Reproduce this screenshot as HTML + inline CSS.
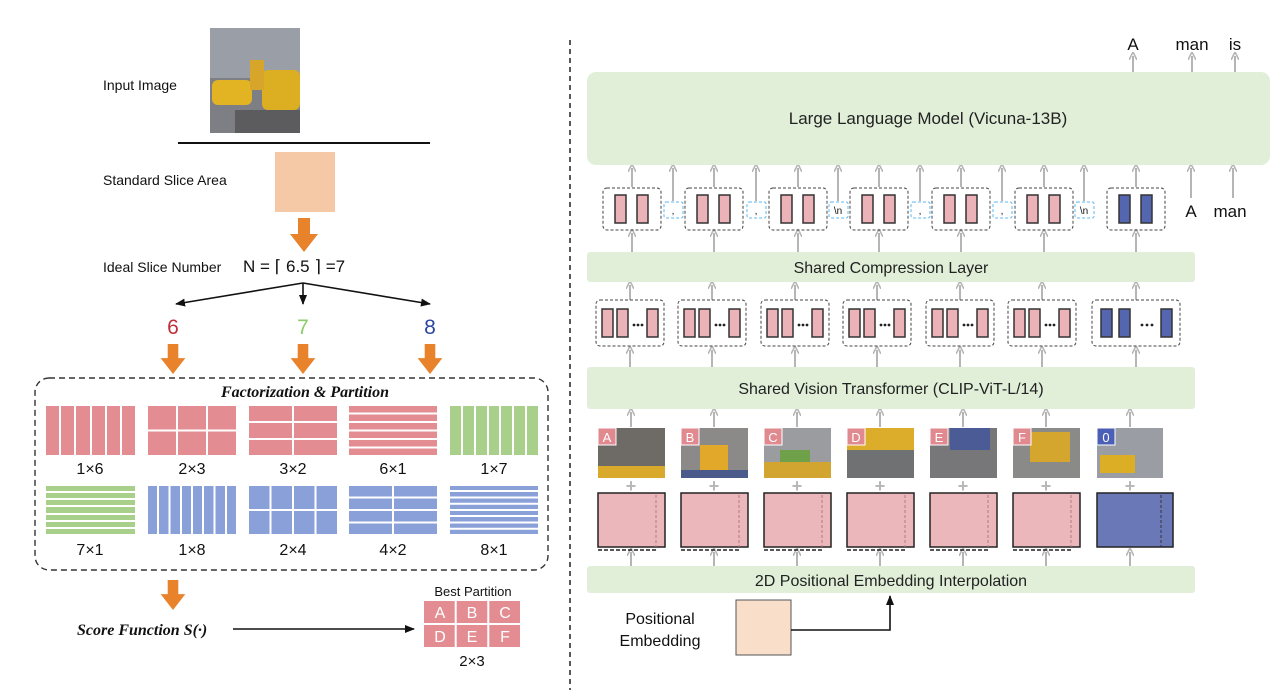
<!DOCTYPE html>
<html><head><meta charset="utf-8"><style>
html,body{margin:0;padding:0;background:#fff;}
svg{display:block;font-family:"Liberation Sans",Arial,sans-serif;}
</style></head><body>
<svg width="1280" height="694" viewBox="0 0 1280 694" xmlns="http://www.w3.org/2000/svg">
<defs>
<marker id="ga" markerWidth="8" markerHeight="8" refX="4" refY="4" orient="auto" markerUnits="userSpaceOnUse" viewBox="0 0 8 8"><path d="M0,0 L8,4 L0,8" fill="none" stroke="#b5b5b5" stroke-width="1.6"/></marker>
<marker id="ka" markerWidth="10" markerHeight="10" refX="9" refY="5" orient="auto" markerUnits="userSpaceOnUse"><path d="M0,1 L10,5 L0,9 Z" fill="#111"/></marker>
<symbol id="oarr" viewBox="0 0 28 34" overflow="visible"><path d="M8,0 H20 V16 H28 L14,34 L0,16 H8 Z" fill="#e8832c"/></symbol>
<g id="tg"><rect x="0" y="0" width="58" height="42" rx="4" fill="none" stroke="#444" stroke-dasharray="3,2"/><rect x="12" y="7" width="11" height="28" fill="#ebb2b8" stroke="#333" stroke-width="1.5"/><rect x="34" y="7" width="11" height="28" fill="#ebb2b8" stroke="#333" stroke-width="1.5"/></g>
<g id="tgb"><rect x="0" y="0" width="58" height="42" rx="4" fill="none" stroke="#444" stroke-dasharray="3,2"/><rect x="12" y="7" width="11" height="28" fill="#5566b0" stroke="#333" stroke-width="1.5"/><rect x="34" y="7" width="11" height="28" fill="#5566b0" stroke="#333" stroke-width="1.5"/></g>
<g id="vg"><rect x="0" y="0" width="68" height="46" rx="4" fill="none" stroke="#444" stroke-dasharray="3,2"/><rect x="6" y="9" width="11" height="28" fill="#ebb2b8" stroke="#333" stroke-width="1.5"/><rect x="21" y="9" width="11" height="28" fill="#ebb2b8" stroke="#333" stroke-width="1.5"/><circle cx="38" cy="25" r="1.4" fill="#222"/><circle cx="42" cy="25" r="1.4" fill="#222"/><circle cx="46" cy="25" r="1.4" fill="#222"/><rect x="51" y="9" width="11" height="28" fill="#ebb2b8" stroke="#333" stroke-width="1.5"/></g>
<g id="vgb"><rect x="0" y="0" width="88" height="46" rx="4" fill="none" stroke="#444" stroke-dasharray="3,2"/><rect x="9" y="9" width="11" height="28" fill="#5566b0" stroke="#333" stroke-width="1.5"/><rect x="27" y="9" width="11" height="28" fill="#5566b0" stroke="#333" stroke-width="1.5"/><circle cx="50" cy="25" r="1.4" fill="#222"/><circle cx="55" cy="25" r="1.4" fill="#222"/><circle cx="60" cy="25" r="1.4" fill="#222"/><rect x="69" y="9" width="11" height="28" fill="#5566b0" stroke="#333" stroke-width="1.5"/></g>
<g id="pe"><rect x="0" y="0" width="67" height="54" fill="#ecb7ba" stroke="#222" stroke-width="1.5"/><line x1="58" y1="2" x2="58" y2="54" stroke="#b07a80" stroke-dasharray="3,2"/><line x1="0" y1="57" x2="58" y2="57" stroke="#222" stroke-dasharray="4,2" stroke-width="1.5"/></g>
</defs>

<!-- LEFT PANEL -->
<text x="103" y="90" font-size="14" fill="#111">Input Image</text>
<rect x="210" y="28" width="90" height="105" fill="#7d7f84"/>
<rect x="210" y="28" width="90" height="50" fill="#9a9ea6"/>
<rect x="212" y="80" width="40" height="25" rx="6" fill="#e2b424"/>
<rect x="262" y="70" width="38" height="40" rx="6" fill="#dcae22"/>
<rect x="250" y="60" width="14" height="30" fill="#d7a52a"/>
<rect x="235" y="110" width="65" height="23" fill="#5c5c5f"/>
<line x1="178" y1="143" x2="430" y2="143" stroke="#111" stroke-width="2"/>
<text x="103" y="185" font-size="14" fill="#111">Standard Slice Area</text>
<rect x="275" y="152" width="60" height="60" fill="#f5c9a5"/>
<use href="#oarr" x="290" y="218" width="28" height="34"/>
<text x="103" y="272" font-size="14" fill="#111">Ideal Slice Number</text>
<text x="243" y="272" font-size="17" fill="#111">N = ⌈ 6.5 ⌉ =7</text>
<path d="M303,283 L176,304" stroke="#111" stroke-width="1.6" fill="none" marker-end="url(#ka)"/>
<path d="M303,283 L303,304" stroke="#111" stroke-width="1.6" fill="none" marker-end="url(#ka)"/>
<path d="M303,283 L430,304" stroke="#111" stroke-width="1.6" fill="none" marker-end="url(#ka)"/>
<text x="173" y="334" font-size="21" fill="#c0303a" text-anchor="middle">6</text>
<text x="303" y="334" font-size="21" fill="#8ccd6a" text-anchor="middle">7</text>
<text x="430" y="334" font-size="21" fill="#2c46a0" text-anchor="middle">8</text>
<use href="#oarr" x="159" y="344" width="28" height="30"/>
<use href="#oarr" x="289" y="344" width="28" height="30"/>
<use href="#oarr" x="416" y="344" width="28" height="30"/>
<rect x="35" y="378" width="513" height="192" rx="14" fill="none" stroke="#333" stroke-width="1.4" stroke-dasharray="6,4"/>
<text x="305" y="397" font-size="16" font-family="Liberation Serif,serif" font-style="italic" font-weight="bold" text-anchor="middle" fill="#111">Factorization &amp; Partition</text>
<g stroke="#fff" stroke-width="2">
<rect x="45" y="405" width="91" height="51" fill="#e38d93"/><path d="M60,405V456M75,405V456M91,405V456M106,405V456M121,405V456"/>
<rect x="147" y="405" width="90" height="51" fill="#e38d93"/><path d="M177,405V456M207,405V456M147,430.5H237"/>
<rect x="248" y="405" width="90" height="51" fill="#e38d93"/><path d="M293,405V456M248,422H338M248,439H338"/>
<rect x="348" y="405" width="90" height="51" fill="#e38d93"/><path d="M348,413.5H438M348,422H438M348,430.5H438M348,439H438M348,447.5H438"/>
<rect x="449" y="405" width="90" height="51" fill="#a9d08a"/><path d="M462,405V456M475,405V456M488,405V456M500,405V456M513,405V456M526,405V456"/>
<rect x="45" y="485" width="91" height="50" fill="#a9d08a"/><path d="M45,492H136M45,499H136M45,506H136M45,514H136M45,521H136M45,528H136"/>
<rect x="147" y="485" width="90" height="50" fill="#8aa0d8"/><path d="M158,485V535M169.5,485V535M181,485V535M192,485V535M203,485V535M214.5,485V535M226,485V535"/>
<rect x="248" y="485" width="90" height="50" fill="#8aa0d8"/><path d="M270.5,485V535M293,485V535M315.5,485V535M248,510H338"/>
<rect x="348" y="485" width="90" height="50" fill="#8aa0d8"/><path d="M393,485V535M348,497.5H438M348,510H438M348,522.5H438"/>
<rect x="449" y="485" width="90" height="50" fill="#8aa0d8"/><path d="M449,491H539M449,497.5H539M449,503.7H539M449,510H539M449,516H539M449,522.5H539M449,528.7H539"/>
</g>
<g font-size="16" fill="#111" text-anchor="middle">
<text x="90" y="474">1×6</text><text x="192" y="474">2×3</text><text x="293" y="474">3×2</text><text x="393" y="474">6×1</text><text x="494" y="474">1×7</text>
<text x="90" y="555">7×1</text><text x="192" y="555">1×8</text><text x="293" y="555">2×4</text><text x="393" y="555">4×2</text><text x="494" y="555">8×1</text>
</g>
<use href="#oarr" x="159" y="580" width="28" height="30"/>
<text x="77" y="635" font-size="16" font-family="Liberation Serif,serif" font-style="italic" font-weight="bold" fill="#111">Score Function S(·)</text>
<path d="M233,629 L414,629" stroke="#111" stroke-width="1.6" marker-end="url(#ka)"/>
<text x="473" y="596" font-size="13" text-anchor="middle" fill="#111">Best Partition</text>
<g stroke="#fff" stroke-width="2"><rect x="423" y="600" width="98" height="48" fill="#e38d93"/><path d="M455.7,600V648M488.3,600V648M423,624H521"/></g>
<g font-size="16" fill="#fff" text-anchor="middle"><text x="440" y="618">A</text><text x="472" y="618">B</text><text x="505" y="618">C</text><text x="440" y="642">D</text><text x="472" y="642">E</text><text x="505" y="642">F</text></g>
<text x="472" y="666" font-size="15" text-anchor="middle" fill="#111">2×3</text>

<line x1="570" y1="40" x2="570" y2="690" stroke="#222" stroke-width="1.5" stroke-dasharray="5,4"/>

<!-- RIGHT PANEL -->
<g stroke="#b5b5b5" stroke-width="2" marker-end="url(#ga)">
<line x1="1133" y1="72" x2="1133" y2="56"/><line x1="1192" y1="72" x2="1192" y2="56"/><line x1="1235" y1="72" x2="1235" y2="56"/>
<line x1="632" y1="187" x2="632" y2="168"/><line x1="673" y1="201" x2="673" y2="168"/>
<line x1="714" y1="187" x2="714" y2="168"/><line x1="756" y1="201" x2="756" y2="168"/>
<line x1="798" y1="187" x2="798" y2="168"/><line x1="838" y1="201" x2="838" y2="168"/>
<line x1="879" y1="187" x2="879" y2="168"/><line x1="920" y1="201" x2="920" y2="168"/>
<line x1="961" y1="187" x2="961" y2="168"/><line x1="1002" y1="201" x2="1002" y2="168"/>
<line x1="1044" y1="187" x2="1044" y2="168"/><line x1="1084" y1="201" x2="1084" y2="168"/>
<line x1="1136" y1="187" x2="1136" y2="168"/>
<line x1="1191" y1="198" x2="1191" y2="168"/><line x1="1233" y1="198" x2="1233" y2="168"/>
<line x1="632" y1="252" x2="632" y2="233"/><line x1="714" y1="252" x2="714" y2="233"/><line x1="798" y1="252" x2="798" y2="233"/><line x1="879" y1="252" x2="879" y2="233"/><line x1="961" y1="252" x2="961" y2="233"/><line x1="1044" y1="252" x2="1044" y2="233"/><line x1="1136" y1="252" x2="1136" y2="233"/>
<line x1="630" y1="300" x2="630" y2="285"/><line x1="712" y1="300" x2="712" y2="285"/><line x1="795" y1="300" x2="795" y2="285"/><line x1="877" y1="300" x2="877" y2="285"/><line x1="960" y1="300" x2="960" y2="285"/><line x1="1042" y1="300" x2="1042" y2="285"/><line x1="1136" y1="300" x2="1136" y2="285"/>
<line x1="630" y1="367" x2="630" y2="350"/><line x1="712" y1="367" x2="712" y2="350"/><line x1="795" y1="367" x2="795" y2="350"/><line x1="877" y1="367" x2="877" y2="350"/><line x1="960" y1="367" x2="960" y2="350"/><line x1="1042" y1="367" x2="1042" y2="350"/><line x1="1136" y1="367" x2="1136" y2="350"/>
<line x1="631" y1="427" x2="631" y2="412"/><line x1="714" y1="427" x2="714" y2="412"/><line x1="797" y1="427" x2="797" y2="412"/><line x1="880" y1="427" x2="880" y2="412"/><line x1="963" y1="427" x2="963" y2="412"/><line x1="1046" y1="427" x2="1046" y2="412"/><line x1="1130" y1="427" x2="1130" y2="412"/>
<line x1="631" y1="566" x2="631" y2="552"/><line x1="714" y1="566" x2="714" y2="552"/><line x1="797" y1="566" x2="797" y2="552"/><line x1="880" y1="566" x2="880" y2="552"/><line x1="963" y1="566" x2="963" y2="552"/><line x1="1046" y1="566" x2="1046" y2="552"/><line x1="1130" y1="566" x2="1130" y2="552"/>
</g>
<g font-size="17" fill="#111" text-anchor="middle"><text x="1133" y="50">A</text><text x="1192" y="50">man</text><text x="1235" y="50">is</text>
<text x="1191" y="217">A</text><text x="1230" y="217">man</text></g>
<rect x="587" y="72" width="683" height="93" rx="9" fill="#e1efd9"/>
<text x="928" y="124" font-size="17" text-anchor="middle" fill="#222">Large Language Model (Vicuna-13B)</text>

<use href="#tg" x="603" y="188"/><use href="#tg" x="685" y="188"/><use href="#tg" x="769" y="188"/><use href="#tg" x="850" y="188"/><use href="#tg" x="932" y="188"/><use href="#tg" x="1015" y="188"/><use href="#tgb" x="1107" y="188"/>
<g fill="none" stroke="#5cb8f0" stroke-dasharray="3,2"><rect x="664" y="202" width="19" height="16" rx="2"/><rect x="747" y="202" width="19" height="16" rx="2"/><rect x="829" y="202" width="19" height="16" rx="2"/><rect x="911" y="202" width="19" height="16" rx="2"/><rect x="993" y="202" width="19" height="16" rx="2"/><rect x="1075" y="202" width="19" height="16" rx="2"/></g>
<g font-size="10" text-anchor="middle" fill="#111"><text x="673" y="214">,</text><text x="756" y="214">,</text><text x="838" y="214">\n</text><text x="920" y="214">,</text><text x="1002" y="214">,</text><text x="1084" y="214">\n</text></g>

<rect x="587" y="252" width="608" height="30" rx="3" fill="#e1efd9"/>
<text x="891" y="273" font-size="16" text-anchor="middle" fill="#222">Shared Compression Layer</text>

<use href="#vg" x="596" y="300"/><use href="#vg" x="678" y="300"/><use href="#vg" x="761" y="300"/><use href="#vg" x="843" y="300"/><use href="#vg" x="926" y="300"/><use href="#vg" x="1008" y="300"/><use href="#vgb" x="1092" y="300"/>

<rect x="587" y="367" width="608" height="42" rx="3" fill="#e1efd9"/>
<text x="891" y="394" font-size="16" text-anchor="middle" fill="#222">Shared Vision Transformer (CLIP-ViT-L/14)</text>

<!-- image tiles -->
<g>
<rect x="598" y="428" width="67" height="50" fill="#6e6a66"/><rect x="598" y="466" width="67" height="12" fill="#d8a92a"/>
<rect x="681" y="428" width="67" height="50" fill="#8c8a88"/><rect x="700" y="445" width="28" height="25" fill="#e2a82a"/><rect x="681" y="470" width="67" height="8" fill="#4a5a8a"/>
<rect x="764" y="428" width="67" height="50" fill="#9a9c9f"/><rect x="780" y="450" width="30" height="12" fill="#6fa14a"/><rect x="764" y="462" width="67" height="16" fill="#d2a530"/>
<rect x="847" y="428" width="67" height="50" fill="#707173"/><rect x="847" y="428" width="67" height="22" fill="#dcad2a"/>
<rect x="930" y="428" width="67" height="50" fill="#77777a"/><rect x="950" y="428" width="40" height="22" fill="#4a5b95"/>
<rect x="1013" y="428" width="67" height="50" fill="#8a8a88"/><rect x="1030" y="432" width="40" height="30" fill="#d4a62e"/>
<rect x="1097" y="428" width="66" height="50" fill="#9a9ea4"/><rect x="1100" y="455" width="35" height="18" fill="#dcae26"/>
</g>
<g fill="#e08a90" stroke="#fff" stroke-width="1"><rect x="598" y="428" width="18" height="17"/><rect x="681" y="428" width="18" height="17"/><rect x="764" y="428" width="18" height="17"/><rect x="847" y="428" width="18" height="17"/><rect x="930" y="428" width="18" height="17"/><rect x="1013" y="428" width="18" height="17"/><rect x="1097" y="428" width="18" height="17" fill="#4a5fb5"/></g>
<g font-size="13" fill="#fff" text-anchor="middle"><text x="607" y="442">A</text><text x="690" y="442">B</text><text x="773" y="442">C</text><text x="856" y="442">D</text><text x="939" y="442">E</text><text x="1022" y="442">F</text><text x="1106" y="442">0</text></g>
<g font-size="18" font-weight="bold" fill="#b8b8b8" text-anchor="middle"><text x="631" y="492">+</text><text x="714" y="492">+</text><text x="797" y="492">+</text><text x="880" y="492">+</text><text x="963" y="492">+</text><text x="1046" y="492">+</text><text x="1130" y="492">+</text></g>

<use href="#pe" x="598" y="493"/><use href="#pe" x="681" y="493"/><use href="#pe" x="764" y="493"/><use href="#pe" x="847" y="493"/><use href="#pe" x="930" y="493"/><use href="#pe" x="1013" y="493"/>
<rect x="1097" y="493" width="76" height="54" fill="#6b78b8" stroke="#222" stroke-width="1.5"/><line x1="1161" y1="495" x2="1161" y2="547" stroke="#333" stroke-dasharray="3,2"/>

<rect x="587" y="566" width="608" height="27" rx="3" fill="#e1efd9"/>
<text x="891" y="586" font-size="16" text-anchor="middle" fill="#222">2D Positional Embedding Interpolation</text>
<text x="660" y="624" font-size="16" text-anchor="middle" fill="#111">Positional</text>
<text x="660" y="646" font-size="16" text-anchor="middle" fill="#111">Embedding</text>
<rect x="736" y="600" width="55" height="55" fill="#f9dfca" stroke="#555" stroke-width="1"/>
<path d="M791,630 H890 V596" fill="none" stroke="#111" stroke-width="1.6" marker-end="url(#ka)"/>
</svg>
</body></html>
